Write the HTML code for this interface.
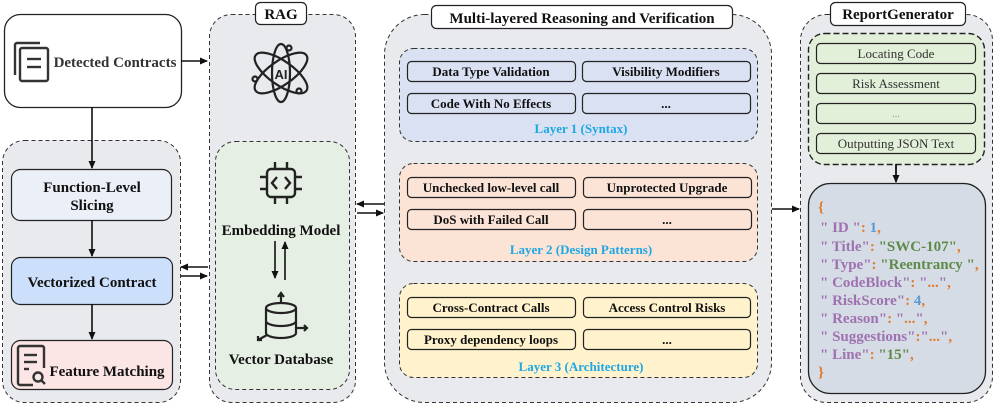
<!DOCTYPE html>
<html><head><meta charset="utf-8"><style>
html,body{margin:0;padding:0;background:#fff;}
svg{display:block;}
</style></head><body>
<svg width="997" height="408" viewBox="0 0 997 408" xmlns="http://www.w3.org/2000/svg" style="font-family:'Liberation Serif','DejaVu Serif',serif">
<defs>
<marker id="ah" markerWidth="8" markerHeight="8" refX="7" refY="4" orient="auto" markerUnits="userSpaceOnUse">
<path d="M0,0.5 L8,4 L0,7.5 z" fill="#111"/></marker>
</defs>

<!-- Detected contracts -->
<rect x="4.5" y="14.5" width="177" height="93" rx="16" fill="#fff" stroke="#222" stroke-width="1.3"/>
<g fill="none" stroke="#333" stroke-width="2.4">
<path d="M15,75 V45 a2,2 0 0 1 2,-2 H40"/>
<rect x="20" y="48" width="28" height="33" rx="2"/>
<line x1="27" y1="59" x2="41" y2="59"/><line x1="27" y1="67" x2="41" y2="67"/>
</g>
<text x="115" y="67" font-weight="bold" font-size="15" text-anchor="middle" fill="#333">Detected Contracts</text>

<!-- left group -->
<rect x="2.5" y="140.5" width="178" height="262" rx="22" fill="#e8eaed" stroke="#333" stroke-dasharray="4,3"/>
<rect x="11.5" y="169.5" width="160" height="51" rx="9" fill="#eaeff8" stroke="#222" stroke-width="1.2"/>
<text x="92" y="192" font-weight="bold" font-size="15" text-anchor="middle" fill="#111">Function-Level</text>
<text x="92" y="210" font-weight="bold" font-size="15" text-anchor="middle" fill="#111">Slicing</text>
<rect x="11.5" y="257.5" width="161" height="47" rx="9" fill="#cce0fb" stroke="#222" stroke-width="1.2"/>
<text x="92" y="287" font-weight="bold" font-size="15" text-anchor="middle" fill="#111">Vectorized Contract</text>
<rect x="11.5" y="340.5" width="161" height="49" rx="9" fill="#fbe5e5" stroke="#222" stroke-width="1.2"/>
<g fill="none" stroke="#333" stroke-width="2.4">
<path d="M33,385 H20 a2,2 0 0 1 -2,-2 V348 a2,2 0 0 1 2,-2 H42 a2,2 0 0 1 2,2 V368"/>
<line x1="24" y1="355" x2="37" y2="355"/><line x1="24" y1="362" x2="37" y2="362"/><line x1="24" y1="369" x2="29" y2="369"/>
<circle cx="38" cy="377" r="4.5"/><line x1="41.5" y1="380.5" x2="45" y2="384"/>
</g>
<text x="107" y="376" font-weight="bold" font-size="15" text-anchor="middle" fill="#111">Feature Matching</text>

<!-- left arrows -->
<line x1="92" y1="107" x2="92" y2="168" stroke="#111" stroke-width="1.6" marker-end="url(#ah)"/>
<line x1="92" y1="220" x2="92" y2="256" stroke="#111" stroke-width="1.6" marker-end="url(#ah)"/>
<line x1="92" y1="304" x2="92" y2="339" stroke="#111" stroke-width="1.6" marker-end="url(#ah)"/>
<line x1="181" y1="61" x2="207" y2="61" stroke="#111" stroke-width="1.6" marker-end="url(#ah)"/>
<line x1="208" y1="267" x2="181" y2="267" stroke="#111" stroke-width="1.6" marker-end="url(#ah)"/>
<line x1="181" y1="276" x2="207" y2="276" stroke="#111" stroke-width="1.6" marker-end="url(#ah)"/>

<!-- RAG -->
<rect x="209.5" y="14.5" width="146" height="388" rx="22" fill="#e8eaed" stroke="#333" stroke-dasharray="4,3"/>
<rect x="255.5" y="2.5" width="51" height="22" rx="5" fill="#fff" stroke="#222" stroke-width="1.2"/>
<text x="281" y="19" font-weight="bold" font-size="15" text-anchor="middle" fill="#111">RAG</text>
<g fill="none" stroke="#222" stroke-width="2.2">
<ellipse cx="281" cy="73" rx="31" ry="12" transform="rotate(35 281 73)"/>
<ellipse cx="281" cy="73" rx="31" ry="12" transform="rotate(-35 281 73)"/>
<ellipse cx="281" cy="73" rx="9" ry="29"/>
<circle cx="289" cy="48" r="2.5"/><circle cx="255" cy="79" r="2.5"/><circle cx="299" cy="91" r="2.5"/>
</g>
<text x="281" y="79" style="font-family:'Liberation Sans',sans-serif" font-weight="bold" font-size="13" text-anchor="middle" fill="#222">AI</text>

<rect x="215.5" y="141.5" width="134" height="248" rx="20" fill="#e6efe4" stroke="#333" stroke-dasharray="4,3"/>
<g fill="none" stroke="#222" stroke-width="2.4">
<rect x="267" y="169" width="28" height="28" rx="4"/>
<path d="M277,177 l-5,6 l5,6 M285,177 l5,6 l-5,6"/>
<path d="M275,169 v-7 M287,169 v-7 M275,197 v7 M287,197 v7 M267,177 h-7 M267,189 h-7 M295,177 h7 M295,189 h7"/>
</g>
<text x="281" y="235" font-weight="bold" font-size="15" text-anchor="middle" fill="#111">Embedding Model</text>
<line x1="275" y1="241" x2="275" y2="278" stroke="#111" stroke-width="1.6" marker-end="url(#ah)"/>
<line x1="285" y1="280" x2="285" y2="242" stroke="#111" stroke-width="1.6" marker-end="url(#ah)"/>
<g fill="none" stroke="#222" stroke-width="2.2">
<ellipse cx="281" cy="308" rx="15" ry="5"/>
<path d="M266,308 v25 a15,5 0 0 0 30,0 v-25 M266,321 a15,5 0 0 0 30,0"/>
<path d="M281,303 v-9 M278,297 l3,-4 l3,4"/>
<path d="M296,328 h11 M304,325 l3,3 l-3,3"/>
<path d="M267,335 l-9,5 M258,336 v4 h4"/>
</g>
<text x="281" y="364" font-weight="bold" font-size="15" text-anchor="middle" fill="#111">Vector Database</text>

<!-- RAG <-> main -->
<line x1="384" y1="204" x2="357" y2="204" stroke="#111" stroke-width="1.6" marker-end="url(#ah)"/>
<line x1="357" y1="213" x2="383" y2="213" stroke="#111" stroke-width="1.6" marker-end="url(#ah)"/>

<!-- main -->
<rect x="384.5" y="14.5" width="387" height="388" rx="40" fill="#e8eaed" stroke="#333" stroke-dasharray="4,3"/>
<rect x="431.5" y="5.5" width="301" height="23" rx="5" fill="#fff" stroke="#222" stroke-width="1.2"/>
<text x="582" y="23" font-weight="bold" font-size="15" text-anchor="middle" fill="#111">Multi-layered Reasoning and Verification</text>

<g font-size="13" font-weight="bold" text-anchor="middle" fill="#111">
<rect x="399.5" y="48.5" width="358" height="93" rx="14" fill="#d9e1f2" stroke="#333" stroke-dasharray="4,3"/>
<rect x="407.5" y="61.5" width="168" height="20" rx="4" fill="#d9e1f2" stroke="#222" stroke-width="1.2"/>
<rect x="582.5" y="61.5" width="168" height="20" rx="4" fill="#d9e1f2" stroke="#222" stroke-width="1.2"/>
<rect x="407.5" y="93.5" width="168" height="20" rx="4" fill="#d9e1f2" stroke="#222" stroke-width="1.2"/>
<rect x="582.5" y="93.5" width="168" height="20" rx="4" fill="#d9e1f2" stroke="#222" stroke-width="1.2"/>
<text x="491" y="76">Data Type Validation</text><text x="666" y="76">Visibility Modifiers</text>
<text x="491" y="108">Code With No Effects</text><text x="666" y="108">...</text>
<text x="581" y="133" fill="#1ea7e4">Layer 1 (Syntax)</text>

<rect x="399.5" y="163.5" width="358" height="98" rx="14" fill="#fbe3d6" stroke="#333" stroke-dasharray="4,3"/>
<rect x="407.5" y="177.5" width="168" height="20" rx="4" fill="#fbe3d6" stroke="#222" stroke-width="1.2"/>
<rect x="583.5" y="177.5" width="168" height="20" rx="4" fill="#fbe3d6" stroke="#222" stroke-width="1.2"/>
<rect x="407.5" y="209.5" width="168" height="20" rx="4" fill="#fbe3d6" stroke="#222" stroke-width="1.2"/>
<rect x="583.5" y="209.5" width="168" height="20" rx="4" fill="#fbe3d6" stroke="#222" stroke-width="1.2"/>
<text x="491" y="192">Unchecked low-level call</text><text x="667" y="192">Unprotected Upgrade</text>
<text x="491" y="224">DoS with Failed Call</text><text x="667" y="224">...</text>
<text x="581" y="254" fill="#1ea7e4">Layer 2 (Design Patterns)</text>

<rect x="399.5" y="283.5" width="358" height="94" rx="14" fill="#fff2cc" stroke="#333" stroke-dasharray="4,3"/>
<rect x="407.5" y="297.5" width="168" height="20" rx="4" fill="#fff2cc" stroke="#222" stroke-width="1.2"/>
<rect x="583.5" y="297.5" width="167" height="20" rx="4" fill="#fff2cc" stroke="#222" stroke-width="1.2"/>
<rect x="407.5" y="329.5" width="168" height="20" rx="4" fill="#fff2cc" stroke="#222" stroke-width="1.2"/>
<rect x="583.5" y="329.5" width="167" height="20" rx="4" fill="#fff2cc" stroke="#222" stroke-width="1.2"/>
<text x="491" y="312">Cross-Contract Calls</text><text x="667" y="312">Access Control Risks</text>
<text x="491" y="344">Proxy dependency loops</text><text x="667" y="344">...</text>
<text x="581" y="371" fill="#1ea7e4">Layer 3 (Architecture)</text>
</g>

<line x1="772" y1="209" x2="799" y2="209" stroke="#111" stroke-width="1.6" marker-end="url(#ah)"/>

<!-- report -->
<rect x="800.5" y="14.5" width="192" height="388" rx="26" fill="#e8eaed" stroke="#333" stroke-dasharray="4,3"/>
<rect x="830.5" y="2.5" width="135" height="23" rx="5" fill="#fff" stroke="#222" stroke-width="1.2"/>
<text x="898" y="19" font-weight="bold" font-size="15" text-anchor="middle" fill="#111">ReportGenerator</text>
<rect x="808.5" y="33.5" width="176" height="131" rx="16" fill="#e2efd9" stroke="#222" stroke-width="1.4" stroke-dasharray="6,3"/>
<g font-size="13" text-anchor="middle" fill="#333">
<rect x="816.5" y="43.5" width="159" height="20" rx="4" fill="#e2efd9" stroke="#222" stroke-width="1.2"/>
<rect x="816.5" y="73.5" width="159" height="20" rx="4" fill="#e2efd9" stroke="#222" stroke-width="1.2"/>
<rect x="816.5" y="103.5" width="159" height="20" rx="4" fill="#e2efd9" stroke="#222" stroke-width="1.2"/>
<rect x="816.5" y="133.5" width="159" height="20" rx="4" fill="#e2efd9" stroke="#222" stroke-width="1.2"/>
<text x="896" y="58">Locating Code</text>
<text x="896" y="88">Risk Assessment</text>
<text x="896" y="117" fill="#999" font-size="10">...</text>
<text x="896" y="148">Outputting JSON Text</text>
</g>
<line x1="896" y1="164" x2="896" y2="182" stroke="#111" stroke-width="1.8" marker-end="url(#ah)"/>
<rect x="808.5" y="183.5" width="177" height="210" rx="22" fill="#d6dce5" stroke="#222" stroke-width="1.3"/>
<g font-size="15" font-weight="bold">
<text x="818" y="212" fill="#e07b2c">{</text>
<text x="820" y="232"><tspan fill="#9e72b0">" ID "</tspan><tspan fill="#e07b2c">: </tspan><tspan fill="#5b9bd5">1</tspan><tspan fill="#e07b2c">,</tspan></text>
<text x="820" y="251"><tspan fill="#9e72b0">" Title"</tspan><tspan fill="#e07b2c">: </tspan><tspan fill="#5e8a4a">"SWC-107"</tspan><tspan fill="#e07b2c">,</tspan></text>
<text x="820" y="269"><tspan fill="#9e72b0">" Type"</tspan><tspan fill="#e07b2c">: </tspan><tspan fill="#5e8a4a">"Reentrancy "</tspan><tspan fill="#e07b2c">,</tspan></text>
<text x="820" y="287"><tspan fill="#9e72b0">" CodeBlock"</tspan><tspan fill="#e07b2c">: </tspan><tspan fill="#9e72b0">"</tspan><tspan fill="#e07b2c">...</tspan><tspan fill="#9e72b0">"</tspan><tspan fill="#e07b2c">,</tspan></text>
<text x="820" y="305"><tspan fill="#9e72b0">" RiskScore"</tspan><tspan fill="#e07b2c">: </tspan><tspan fill="#5b9bd5">4</tspan><tspan fill="#e07b2c">,</tspan></text>
<text x="820" y="323"><tspan fill="#9e72b0">" Reason"</tspan><tspan fill="#e07b2c">: </tspan><tspan fill="#9e72b0">"</tspan><tspan fill="#e07b2c">...</tspan><tspan fill="#9e72b0">"</tspan><tspan fill="#e07b2c">,</tspan></text>
<text x="820" y="341"><tspan fill="#9e72b0">" Suggestions"</tspan><tspan fill="#e07b2c">:</tspan><tspan fill="#9e72b0">"</tspan><tspan fill="#e07b2c">...</tspan><tspan fill="#9e72b0">"</tspan><tspan fill="#e07b2c">,</tspan></text>
<text x="820" y="359"><tspan fill="#9e72b0">" Line"</tspan><tspan fill="#e07b2c">: </tspan><tspan fill="#5e8a4a">"15"</tspan><tspan fill="#e07b2c">,</tspan></text>
<text x="818" y="377" fill="#e07b2c">}</text>
</g>
</svg>
</body></html>
